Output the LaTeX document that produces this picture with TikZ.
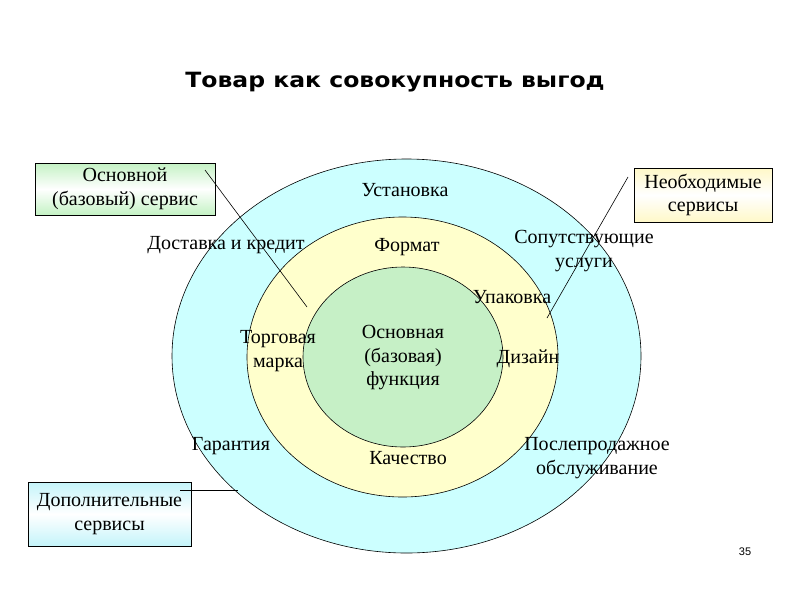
\documentclass[tikz,border=0pt]{standalone}
\usepackage{fontspec}
\setmainfont{Liberation Serif}
\newfontfamily\titlefont{DejaVu Sans}
\newfontfamily\numfont{Liberation Sans}
\usetikzlibrary{shapes.geometric}
\definecolor{ringout}{RGB}{204,255,255}
\definecolor{ringmid}{RGB}{255,255,204}
\definecolor{ringin}{RGB}{198,240,198}
\definecolor{bgreen}{RGB}{196,242,196}
\definecolor{byellow}{RGB}{255,248,200}
\definecolor{bcyan}{RGB}{196,244,250}
\begin{document}
\begin{tikzpicture}[x=1pt,y=-1pt,
  ring/.style={ellipse,draw=black,line width=0.6pt,inner sep=0pt,outer sep=0pt},
  lbl/.style={font=\fontsize{20}{23.5}\selectfont,align=center,inner sep=0pt},
  callout/.style={draw=black,line width=0.8pt,inner sep=0pt,outer sep=0pt,
    font=\fontsize{20}{23.5}\selectfont,align=center},
  link/.style={draw=black,line width=0.6pt}]
\useasboundingbox[fill=white] (0,0) rectangle (794,595);
% rings
\node[ring,fill=ringout,minimum width=469pt,minimum height=394pt] (outer) at (406.5,356) {};
\node[ring,fill=ringmid,minimum width=311pt,minimum height=280pt] (middle) at (402.5,357) {};
\node[ring,fill=ringin,minimum width=200pt,minimum height=180pt] (inner) at (403,357) {};
% title
\node[inner sep=0pt,font=\titlefont\bfseries\fontsize{21}{25}\selectfont] (title) at (395,82) {\scalebox{1.12}[1]{Товар как совокупность выгод}};
% labels
\node[lbl] (ust) at (405,190) {Установка};
\node[lbl] (form) at (407,247) {Формат};
\node[lbl] (dost) at (226,245) {Доставка и кредит};
\node[lbl] (sop) at (584,251) {Сопутствующие\\услуги};
\node[lbl] (upak) at (512,297) {Упаковка};
\node[lbl] (torg) at (278,351) {Торговая\\марка};
\node[lbl] (osn) at (403,358) {Основная\\(базовая)\\функция};
\node[lbl] (diz) at (528,359) {Дизайн};
\node[lbl] (gar) at (231,446) {Гарантия};
\node[lbl] (kach) at (408,458) {Качество};
\node[lbl] (posl) at (597,458) {Послепродажное\\обслуживание};
% boxes
\node[callout,minimum width=180pt,minimum height=52pt,top color=bgreen,bottom color=bgreen,middle color=white] (box1) at (125,189) {Основной\\(базовый) сервис};
\node[callout,minimum width=138pt,minimum height=54pt,top color=byellow,bottom color=byellow,middle color=white] (box2) at (703,195) {Необходимые\\сервисы};
\node[callout,minimum width=163pt,minimum height=64pt,top color=bcyan,bottom color=bcyan,middle color=white] (box3) at (109.5,514) {Дополнительные\\сервисы};
% connectors
\coordinate (l1a) at (205,170);
\coordinate (l1b) at (307,307);
\coordinate (l2a) at (628,177);
\coordinate (l2b) at (547,318);
\coordinate (l3a) at (180,490);
\coordinate (l3b) at (238,490);
\draw[link] (l1a) -- (l1b);
\draw[link] (l2a) -- (l2b);
\draw[link] (l3a) -- (l3b);
% page number
\node[inner sep=0pt,font=\numfont\fontsize{11}{13}\selectfont] (num) at (745,552) {35};
\end{tikzpicture}
\end{document}
